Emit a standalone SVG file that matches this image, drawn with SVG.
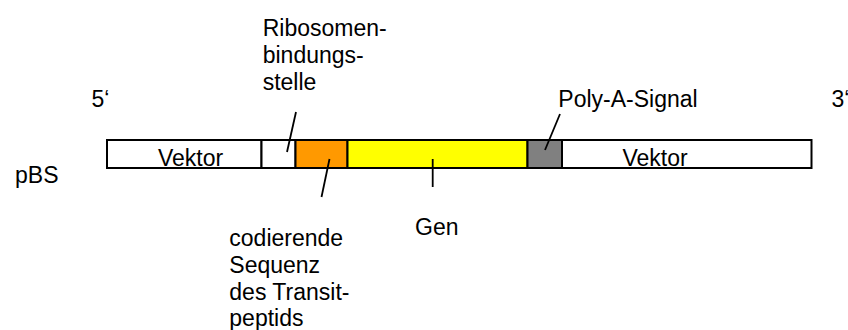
<svg xmlns="http://www.w3.org/2000/svg" width="848" height="330" viewBox="0 0 848 330">
<style>
text{font-family:"Liberation Sans",Arial,sans-serif;font-size:23px;fill:#000}
.seg{stroke:#000;stroke-width:2}
.lead{stroke:#000;stroke-width:1.8;fill:none}
</style>
<rect width="848" height="330" fill="#fff"/>
<g id="vektor-left"><rect class="seg" x="107" y="140" width="154.5" height="28" fill="#fff"/><text x="158" y="165.5">Vektor</text></g>
<g id="ribosomen-bindungsstelle-segment"><rect class="seg" x="261.5" y="140" width="34" height="28" fill="#fff"/></g>
<g id="transitpeptid"><rect class="seg" x="295.5" y="140" width="52" height="28" fill="#FF9900"/></g>
<g id="gen"><rect class="seg" x="347.5" y="140" width="180" height="28" fill="#FFFF00"/></g>
<g id="polya"><rect class="seg" x="527.5" y="140" width="34.5" height="28" fill="#808080"/></g>
<g id="vektor-right"><rect class="seg" x="562" y="140" width="249.5" height="28" fill="#fff"/><text x="622.5" y="165.5">Vektor</text></g>
<g id="connectors">
<line class="lead" x1="296" y1="112" x2="287" y2="152"/>
<line class="lead" x1="329.5" y1="159" x2="321.5" y2="197"/>
<line class="lead" x1="432.7" y1="159" x2="432.7" y2="187"/>
<line class="lead" x1="560" y1="114" x2="545" y2="150"/>
</g>
<g id="labels">
<text x="91.5" y="106.5">5‘</text>
<text x="831.5" y="106.5">3‘</text>
<text x="15" y="183.3">pBS</text>
<text x="262.7" y="36">Ribosomen-</text>
<text x="262.7" y="63">bindungs-</text>
<text x="262.7" y="90">stelle</text>
<text x="558.3" y="106.5">Poly-A-Signal</text>
<text x="415" y="235">Gen</text>
<text x="229.3" y="245.5">codierende</text>
<text x="229.3" y="272.5">Sequenz</text>
<text x="229.3" y="299.5">des Transit-</text>
<text x="229.3" y="326">peptids</text>
</g>
</svg>
